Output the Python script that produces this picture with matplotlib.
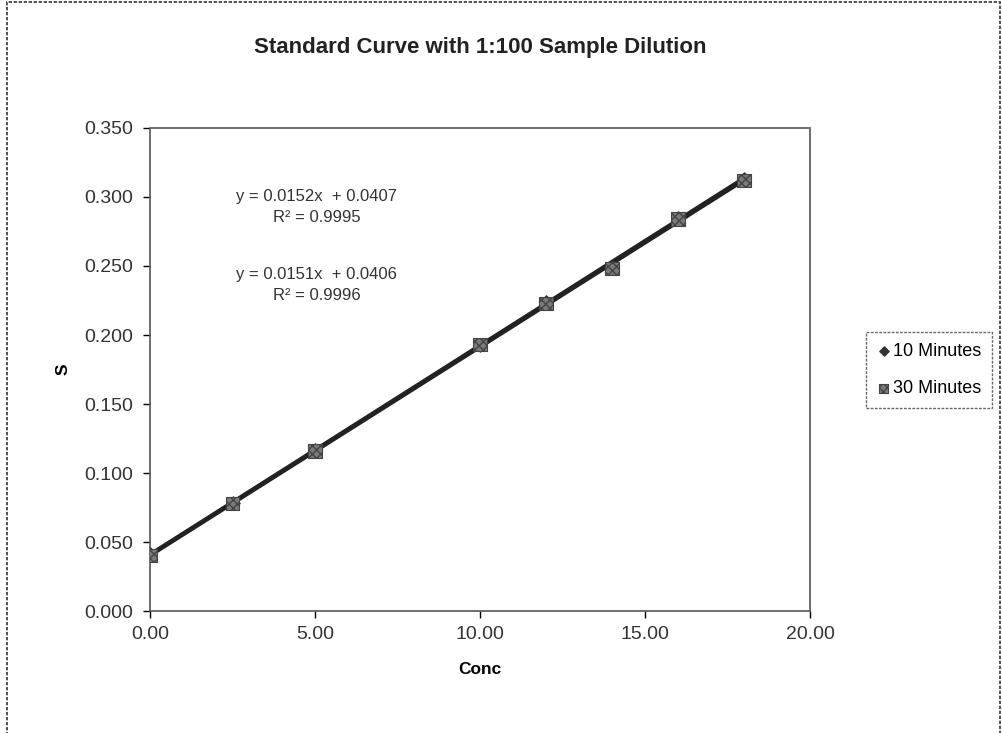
import matplotlib.pyplot as plt
import numpy as np
from matplotlib.patches import Rectangle

plt.rcParams['font.family'] = ['Liberation Sans', 'DejaVu Sans']

conc = [0.0, 2.5, 5.0, 10.0, 12.0, 14.0, 16.0, 18.0]
s_10min = [0.041, 0.078, 0.117, 0.193, 0.224, 0.250, 0.285, 0.313]
s_30min = [0.040, 0.078, 0.116, 0.193, 0.223, 0.248, 0.284, 0.312]
eq_labels = ["y = 0.0152x  + 0.0407\nR\u00b2 = 0.9995",
             "y = 0.0151x  + 0.0406\nR\u00b2 = 0.9996"]
eq_pos = [(5.05, 0.2925), (5.05, 0.2365)]

fig = plt.figure(figsize=(10.03, 7.33), dpi=100)
ax = fig.add_axes([0.1496, 0.1664, 0.6580, 0.6590])

# outer chart border
fig.patches.append(Rectangle((0.007, -0.01), 0.990, 1.007, transform=fig.transFigure,
                             fill=False, edgecolor='#333333', linewidth=1.2, linestyle=(0, (2, 1))))

# trend lines
for ys in (s_10min, s_30min):
	m, b = np.polyfit(conc, ys, 1)
	xs = np.array([conc[0], conc[-1]])
	ax.plot(xs, m * xs + b, color='#222222', linewidth=3, zorder=2)

ax.scatter(conc, s_10min, marker='D', s=45, color='#333333', zorder=3, label='10 Minutes')
ax.scatter(conc, s_30min, marker='s', s=90, color='#7a7a7a', edgecolor='#444444',
           hatch='xxxx', linewidth=0.8, zorder=4, label='30 Minutes')

for txt, (x, y) in zip(eq_labels, eq_pos):
	ax.text(x, y, txt, ha='center', va='center', fontsize=12, color='#333333', linespacing=1.5)

ax.set_xlim(0, 20)
ax.set_ylim(0, 0.35)
ax.set_xticks(np.arange(0, 20.1, 5))
ax.set_yticks(np.arange(0, 0.351, 0.05))
ax.set_xticklabels(["%.2f" % v for v in np.arange(0, 20.1, 5)])
ax.set_yticklabels(["%.3f" % v for v in np.arange(0, 0.351, 0.05)])
ax.tick_params(labelsize=14, labelcolor='#333333', direction='out', length=5, width=1)
ax.tick_params(axis='y', pad=7)
ax.tick_params(axis='x', pad=6)
for sp in ax.spines.values():
	sp.set_linestyle((0, (1, 1)))
	sp.set_color('#555555')
	sp.set_linewidth(1.2)

ax.set_xlabel("Conc", fontsize=12.5, fontweight='bold')
ax.set_ylabel("S", fontsize=12.5, fontweight='bold')
ax.xaxis.set_label_coords(0.5, -0.106)
ax.yaxis.set_label_coords(-0.12, 0.5)
fig.text(0.479, 0.935, "Standard Curve with 1:100 Sample Dilution", ha='center', va='center',
         fontsize=16, fontweight='bold', color='#222222')

leg = fig.legend(loc='center', bbox_to_anchor=(0.926, 0.495), fontsize=13, frameon=True,
                 fancybox=False, edgecolor='#444444', handletextpad=0.1, handlelength=0.8,
                 borderpad=0.6, labelspacing=1.1, markerscale=0.7)
leg.get_frame().set_linestyle((0, (2, 1)))

plt.savefig("out.png", dpi=100)
